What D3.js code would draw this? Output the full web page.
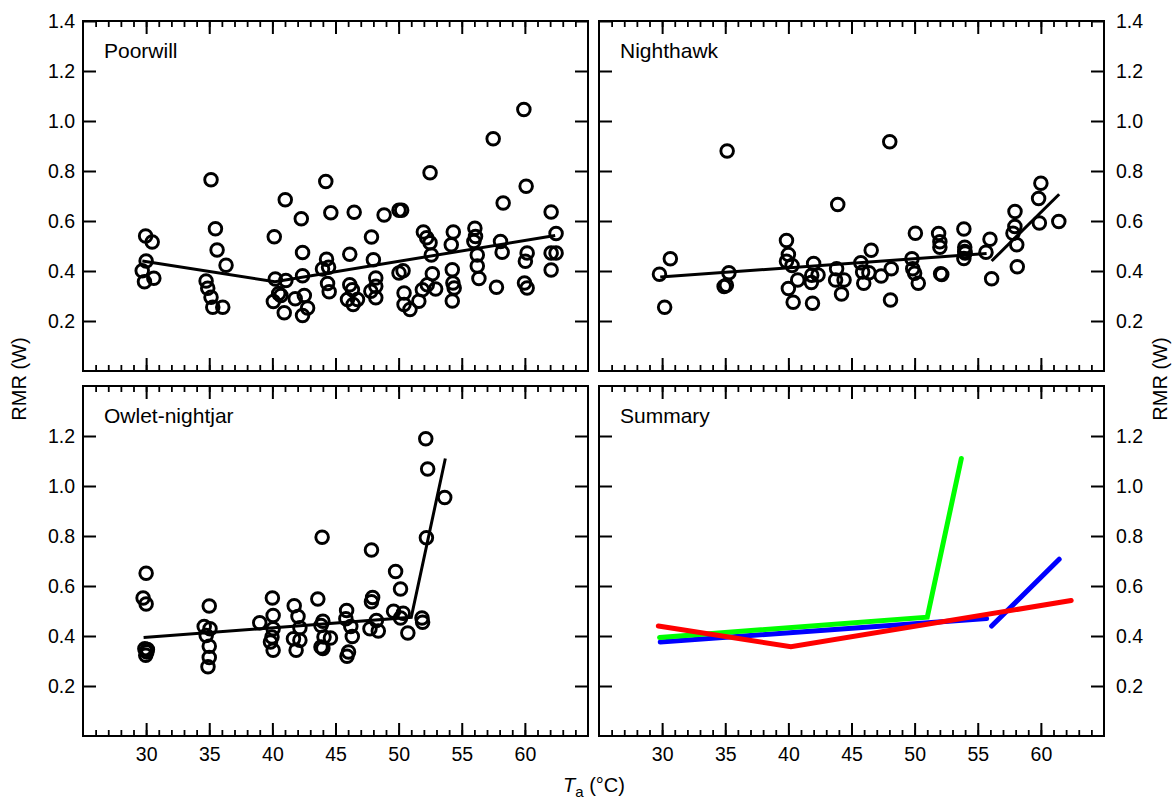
<!DOCTYPE html>
<html>
<head>
<meta charset="utf-8">
<script src="https://cdn.jsdelivr.net/npm/d3@7"></script>
<style>
  body { margin: 0; background: #fff; }
  svg { display: block; }
  text { font-family: "Liberation Sans", Arial, sans-serif; fill: #000; }
</style>
</head>
<body>
<svg id="chart" width="1173" height="799"></svg>
<script>
// [Ta (°C), RMR (W)]
const poorwill = [
  [29.96,0.54],[30.48,0.516],[30.0,0.44],[29.69,0.401],[29.87,0.357],[30.61,0.371],
  [35.14,0.765],[35.49,0.569],[35.62,0.484],[36.33,0.423],[34.75,0.36],[34.88,0.331],[35.14,0.295],[35.28,0.255],[36.07,0.255],
  [40.15,0.537],[41.02,0.685],[42.29,0.609],[42.39,0.474],[42.39,0.381],[40.23,0.368],[41.07,0.362],[40.68,0.302],[40.08,0.278],
  [41.81,0.289],[42.53,0.302],[42.79,0.252],[40.94,0.233],[42.39,0.222],[40.5,0.31],
  [44.23,0.758],[44.63,0.633],[44.29,0.447],[44.45,0.415],[43.97,0.408],[44.37,0.35],[44.5,0.317],
  [46.48,0.635],[46.13,0.467],[46.13,0.345],[46.34,0.325],[45.95,0.286],[46.4,0.266],[46.74,0.286],
  [48.85,0.624],[47.85,0.536],[48.0,0.445],[48.19,0.372],[48.19,0.339],[48.19,0.293],[47.8,0.319],
  [50.03,0.643],[50.24,0.643],[50.03,0.392],[50.35,0.401],[50.43,0.312],[50.43,0.266],[50.9,0.246],
  [51.6,0.279],[51.88,0.325],[52.27,0.345],[52.93,0.328],[52.67,0.389],
  [52.49,0.793],[51.96,0.556],[52.22,0.533],[52.49,0.513],[52.59,0.464],
  [54.33,0.556],[54.17,0.505],[54.25,0.405],[54.3,0.352],[54.4,0.332],[54.25,0.28],
  [56.04,0.571],[56.09,0.538],[55.96,0.518],[56.23,0.464],[56.23,0.42],[56.36,0.37],
  [57.49,0.929],[58.28,0.672],[58.07,0.518],[58.2,0.475],[57.75,0.335],
  [59.92,1.046],[60.1,0.739],[60.18,0.472],[60.04,0.439],[59.97,0.352],[60.18,0.332],
  [62.08,0.636],[62.47,0.55],[62.08,0.472],[62.47,0.472],[62.08,0.404]
];
const nighthawk = [
  [29.79,0.387],[30.65,0.449],[30.2,0.255],[35.15,0.88],[35.29,0.393],[34.91,0.338],[35.09,0.343],
  [39.85,0.522],[40.0,0.466],[39.85,0.439],[40.29,0.422],[40.74,0.364],[40.0,0.33],[40.38,0.275],
  [42.0,0.43],[41.85,0.383],[41.82,0.354],[42.35,0.384],[41.91,0.271],
  [43.91,0.666],[43.82,0.409],[43.74,0.364],[44.41,0.364],[44.21,0.308],
  [45.74,0.433],[45.88,0.396],[45.97,0.351],[46.56,0.483],[46.38,0.393],[47.35,0.38],
  [48.03,0.917],[48.15,0.409],[48.09,0.284],
  [49.79,0.449],[49.85,0.409],[50.0,0.391],[50.29,0.351],[50.06,0.551],
  [51.9,0.55],[52.0,0.517],[52.0,0.495],[52.06,0.389],[52.15,0.386],
  [53.9,0.568],[53.97,0.495],[53.97,0.478],[53.9,0.45],[54.0,0.472],
  [55.65,0.475],[55.97,0.527],[56.1,0.369],
  [57.95,0.638],[57.94,0.578],[57.79,0.551],[58.09,0.505],[58.13,0.417],
  [60.0,0.751],[59.82,0.69],[59.88,0.592],[61.42,0.598]
];
const owletNightjar = [
  [30.0,0.651],[29.76,0.552],[30.0,0.528],[29.9,0.349],[30.06,0.336],[29.97,0.323],[30.1,0.346],
  [35.0,0.52],[34.6,0.438],[34.76,0.402],[35.06,0.429],[35.0,0.359],[35.0,0.314],[34.9,0.277],
  [39.0,0.453],[40.0,0.552],[40.06,0.482],[40.06,0.429],[39.97,0.396],[39.85,0.376],[40.06,0.343],
  [41.73,0.521],[42.03,0.478],[42.18,0.433],[41.67,0.389],[42.18,0.383],[41.88,0.343],
  [43.6,0.548],[43.94,0.795],[44.0,0.459],[43.85,0.442],[44.09,0.396],[43.85,0.356],[44.0,0.35],[44.6,0.392],
  [45.88,0.502],[45.82,0.469],[46.21,0.438],[46.33,0.398],[46.03,0.336],[45.91,0.319],
  [47.85,0.744],[47.94,0.554],[47.85,0.537],[47.73,0.429],[48.39,0.42],[48.24,0.462],
  [49.76,0.658],[50.15,0.588],[49.6,0.499],[50.36,0.491],[50.15,0.472],[50.73,0.412],
  [52.15,1.189],[52.3,1.068],[53.65,0.954],[52.2,0.793],[51.85,0.472],[51.9,0.455]
];

// broken-stick fits
const poorwillFit = [[29.7,0.44],[40.2,0.357],[62.4,0.542]];
const nighthawkFitLow = [[29.85,0.376],[55.7,0.47]];
const nighthawkFitHigh = [[56.1,0.44],[61.45,0.707]];
const owletFit = [[29.8,0.394],[51.0,0.475],[53.7,1.11]];

const xDomain = [25, 65];
const yDomain = [0, 1.4];
const xMajor = [30, 35, 40, 45, 50, 55, 60];
const xMinor = d3.range(26, 65);
const yTicksTop = [0.2, 0.4, 0.6, 0.8, 1.0, 1.2, 1.4];
const yTicksBottom = [0.2, 0.4, 0.6, 0.8, 1.0, 1.2];

const panels = [
  { name: "Poorwill", col: 0, row: 0, points: poorwill, fits: [{ d: poorwillFit, c: "#000" }] },
  { name: "Nighthawk", col: 1, row: 0, points: nighthawk,
    fits: [{ d: nighthawkFitLow, c: "#000" }, { d: nighthawkFitHigh, c: "#000" }] },
  { name: "Owlet-nightjar", col: 0, row: 1, points: owletNightjar, fits: [{ d: owletFit, c: "#000" }] },
  { name: "Summary", col: 1, row: 1, points: [],
    fits: [
      { d: nighthawkFitLow, c: "#0000ff" }, { d: nighthawkFitHigh, c: "#0000ff" },
      { d: owletFit, c: "#00ff00" },
      { d: poorwillFit, c: "#ff0000" }
    ] }
];

const colX = [83, 599], rowY = [21, 386];
const pw = 505, ph = 350;
const tickFont = 19.5, nameFont = 21, titleFont = 20;

const svg = d3.select("#chart");

function styleAxis(g) {
  g.select(".domain").remove();
  g.selectAll("line").attr("stroke", "#000");
  g.selectAll("text")
    .attr("font-size", tickFont)
    .attr("font-family", "'Liberation Sans', Arial, sans-serif")
    .attr("fill", "#000");
}

panels.forEach((p) => {
  const x0 = colX[p.col], y0 = rowY[p.row];
  const x = d3.scaleLinear().domain(xDomain).range([x0, x0 + pw]);
  const y = d3.scaleLinear().domain(yDomain).range([y0 + ph, y0]);
  const g = svg.append("g");

  // x minor + major ticks, bottom and top, drawn inward
  g.append("g")
    .attr("transform", `translate(0,${y0 + ph})`)
    .call(d3.axisBottom(x).tickValues(xMinor).tickSizeInner(-6).tickSizeOuter(0).tickFormat(""))
    .call(styleAxis)
    .selectAll("line").attr("stroke-width", 1.8);
  g.append("g")
    .attr("transform", `translate(0,${y0})`)
    .call(d3.axisTop(x).tickValues(xMinor).tickSizeInner(-6).tickSizeOuter(0).tickFormat(""))
    .call(styleAxis)
    .selectAll("line").attr("stroke-width", 1.8);

  g.append("g")
    .attr("transform", `translate(0,${y0 + ph})`)
    .call(d3.axisBottom(x).tickValues(xMajor).tickSizeInner(-13).tickSizeOuter(0)
      .tickPadding(11).tickFormat(p.row === 1 ? d3.format("d") : ""))
    .call(styleAxis)
    .selectAll("line").attr("stroke-width", 2);
  g.append("g")
    .attr("transform", `translate(0,${y0})`)
    .call(d3.axisTop(x).tickValues(xMajor).tickSizeInner(-13).tickSizeOuter(0).tickFormat(""))
    .call(styleAxis)
    .selectAll("line").attr("stroke-width", 2);

  // y ticks on both sides, labels on the outer side
  const yt = p.row === 0 ? yTicksTop : yTicksBottom;
  g.append("g")
    .attr("transform", `translate(${x0},0)`)
    .call(d3.axisLeft(y).tickValues(yt).tickSizeInner(-13).tickSizeOuter(0)
      .tickPadding(8).tickFormat(p.col === 0 ? d3.format(".1f") : ""))
    .call(styleAxis)
    .selectAll("line").attr("stroke-width", 2);
  g.append("g")
    .attr("transform", `translate(${x0 + pw},0)`)
    .call(d3.axisRight(y).tickValues(yt).tickSizeInner(-13).tickSizeOuter(0)
      .tickPadding(12).tickFormat(p.col === 1 ? d3.format(".1f") : ""))
    .call(styleAxis)
    .selectAll("line").attr("stroke-width", 2);

  // frame
  g.append("rect")
    .attr("x", x0).attr("y", y0).attr("width", pw).attr("height", ph)
    .attr("fill", "none").attr("stroke", "#000").attr("stroke-width", 2);

  g.append("text")
    .attr("x", x0 + 21).attr("y", y0 + 37)
    .attr("font-size", nameFont)
    .text(p.name);

  const line = d3.line().x((d) => x(d[0])).y((d) => y(d[1]));
  const summary = p.points.length === 0;

  g.selectAll("circle")
    .data(p.points)
    .join("circle")
    .attr("cx", (d) => x(d[0]))
    .attr("cy", (d) => y(d[1]))
    .attr("r", 6.3)
    .attr("fill", "none")
    .attr("stroke", "#000")
    .attr("stroke-width", 2.9);

  p.fits.forEach((f) => {
    g.append("path")
      .attr("d", line(f.d))
      .attr("fill", "none")
      .attr("stroke", f.c)
      .attr("stroke-width", summary ? 5 : 3)
      .attr("stroke-linecap", summary ? "round" : "butt")
      .attr("stroke-linejoin", "miter");
  });
});

// axis titles
svg.append("text")
  .attr("transform", "translate(26,379) rotate(-90)")
  .attr("text-anchor", "middle")
  .attr("font-size", titleFont)
  .text("RMR (W)");
svg.append("text")
  .attr("transform", "translate(1167,379) rotate(-90)")
  .attr("text-anchor", "middle")
  .attr("font-size", titleFont)
  .text("RMR (W)");

const xt = svg.append("text")
  .attr("x", 594).attr("y", 792)
  .attr("text-anchor", "middle")
  .attr("font-size", titleFont);
xt.append("tspan").attr("font-style", "italic").text("T");
xt.append("tspan").attr("font-size", 15).attr("dy", 5).text("a");
xt.append("tspan").attr("dy", -5).text(" (°C)");
</script>
</body>
</html>
